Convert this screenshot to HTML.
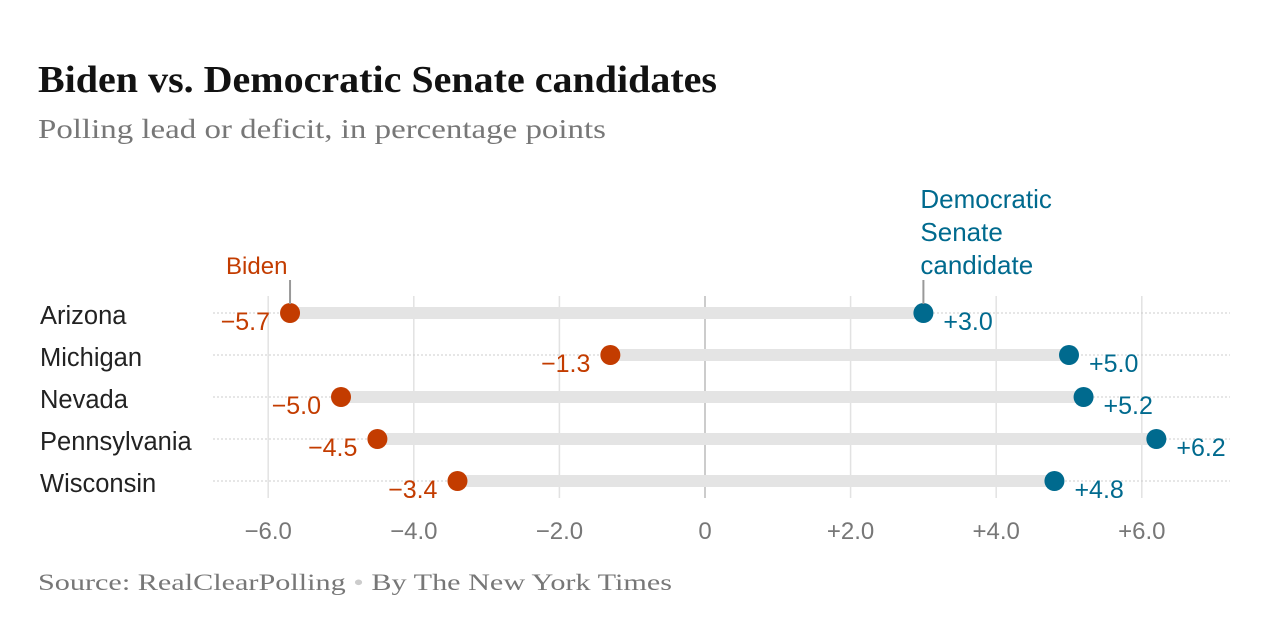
<!DOCTYPE html>
<html><head><meta charset="utf-8"><style>
body{margin:0;background:#fff;width:1284px;height:634px;overflow:hidden}
svg text{font-family:"Liberation Sans",sans-serif}
</style></head><body>
<svg id="c" width="1284" height="634">
<text x="38" y="92" font-weight="bold" font-size="38" fill="#121212" textLength="679" lengthAdjust="spacingAndGlyphs" style="font-family:'Liberation Serif',serif">Biden vs. Democratic Senate candidates</text>
<text x="38" y="138" font-size="27" fill="#777" textLength="568" lengthAdjust="spacingAndGlyphs" style="font-family:'Liberation Serif',serif">Polling lead or deficit, in percentage points</text>
<text x="38" y="590" font-size="23" fill="#777" textLength="634" lengthAdjust="spacingAndGlyphs" style="font-family:'Liberation Serif',serif">Source: RealClearPolling <tspan fill="#ccc">•</tspan> By The New York Times</text>
<g id="plot"></g>
</svg>
<script>
const states=["Arizona","Michigan","Nevada","Pennsylvania","Wisconsin"];
const biden=[-5.7,-1.3,-5.0,-4.5,-3.4];
const senate=[3.0,5.0,5.2,6.2,4.8];
const ticks=[-6,-4,-2,0,2,4,6];
const tickLabels=["−6.0","−4.0","−2.0","0","+2.0","+4.0","+6.0"];
const NS="http://www.w3.org/2000/svg";
const g=document.getElementById('plot');
const x=v=>705+v*72.8;
const y=i=>313+i*42;
function mk(t,a,p){const e=document.createElementNS(NS,t);for(const k in a)e.setAttribute(k,a[k]);(p||g).appendChild(e);return e;}
ticks.forEach((t,i)=>{
 const l=mk('line',{x1:x(t),x2:x(t),y1:296,y2:498,stroke:t===0?'#bbb':'#e2e2e2','stroke-width':1.5});
 
 
 const tx=mk('text',{x:x(t),y:539,'text-anchor':'middle','font-size':24,fill:'#777'});
 tx.textContent=tickLabels[i];
 
 
});
states.forEach((s,i)=>{
 const yy=y(i);
 const d=mk('line',{x1:213,x2:1230,y1:yy,y2:yy,stroke:'#ccc','stroke-dasharray':'2,2','stroke-width':1});
 
 
 const b=mk('line',{x1:x(biden[i]),x2:x(senate[i]),y1:yy,y2:yy,stroke:'#e4e4e4','stroke-width':12});
 
 
 const lab=mk('text',{x:40,y:yy+11,'font-size':25.5,fill:'#222'});
 lab.textContent=s;
 
 
 const c1=mk('circle',{cx:x(biden[i]),cy:yy,r:10,fill:'#c33c00'});
 
 
 const c2=mk('circle',{cx:x(senate[i]),cy:yy,r:10,fill:'#006a8e'});
 
 
 const t1=mk('text',{x:x(biden[i])-20,y:yy+17,'text-anchor':'end','font-size':25,fill:'#c33c00'});
 t1.textContent='−'+Math.abs(biden[i]).toFixed(1);
 
 
 const t2=mk('text',{x:x(senate[i])+20,y:yy+17,'font-size':25,fill:'#006a8e'});
 t2.textContent='+'+senate[i].toFixed(1);
 
 
});
const a1=mk('line',{x1:x(biden[0]),x2:x(biden[0]),y1:280,y2:304,stroke:'#999','stroke-width':2});


const b1=mk('text',{x:x(biden[0])-64,y:274,'font-size':24,fill:'#c33c00'});
b1.textContent='Biden';


const a2=mk('line',{x1:x(senate[0]),x2:x(senate[0]),y1:280,y2:304,stroke:'#999','stroke-width':2});


["Democratic","Senate","candidate"].forEach((w,k)=>{
 const t=mk('text',{x:x(senate[0])-3,y:208+k*33,'font-size':26,fill:'#006a8e'});
 t.textContent=w;
 
 
});
</script>
</body></html>
